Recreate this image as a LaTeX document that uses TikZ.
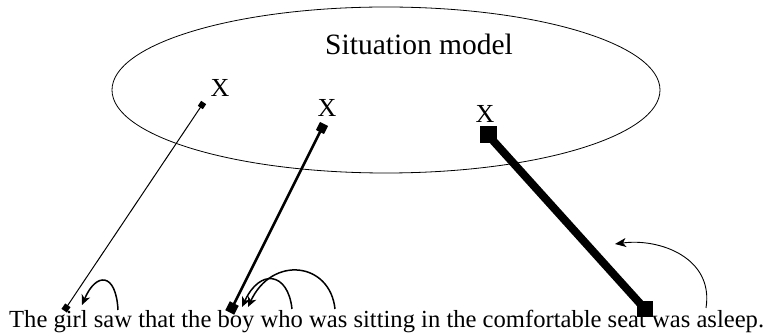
\documentclass[tikz,border=0pt]{standalone}
\usepackage{fontspec}
\setmainfont{Liberation Serif}
\usetikzlibrary{shapes.geometric,arrows.meta}
\begin{document}
\begin{tikzpicture}[x=1pt,y=-1pt,
  sqbox/.style={fill=black,inner sep=0pt,minimum size=#1,shape=rectangle},
  xmark/.style={inner sep=0pt,anchor=base,font=\fontsize{26}{30}\selectfont},
  curvearrow/.style={-{Stealth[length=10pt,width=9pt,inset=3pt]},line width=1.5pt},
  thinarrow/.style={-{Stealth[length=11pt,width=9pt,inset=3pt]},line width=0.9pt}]
\useasboundingbox (0,0) rectangle (774,336);
% situation model ellipse
\node[ellipse,draw,line width=0.8pt,minimum width=548pt,minimum height=166pt,inner sep=0pt] (sm) at (386,90) {};
\node[inner sep=0pt,anchor=base west,font=\fontsize{29.5}{34}\selectfont] (title) at (325,55) {Situation model};
% X marks
\node[xmark] (x1) at (220,97) {X};
\node[xmark] (x2) at (327,117) {X};
\node[xmark] (x3) at (485,123) {X};
% sentence
\node[inner sep=0pt,anchor=base west,font=\fontsize{24.6}{29}\selectfont] (sent) at (9,328) {The girl saw that the boy who was sitting in the comfortable seat was asleep.};
% reference lines with square ends
\node[sqbox=6pt,rotate=56] (a1) at (202,105) {};
\node[sqbox=6.5pt,rotate=56] (b1) at (66,308) {};
\draw[line width=1pt] (a1.center) -- (b1.center);
\node[sqbox=9pt,rotate=63] (a2) at (322,128) {};
\node[sqbox=10pt,rotate=63] (b2) at (232,308) {};
\draw[line width=2.5pt] (a2.center) -- (b2.center);
\node[sqbox=17pt] (a3) at (488,135) {};
\node[sqbox=16pt] (b3) at (645,309) {};
\draw[line width=8pt] (a3.center) -- (b3.center);
% curved arrows
\coordinate (sA) at (118,310); \coordinate (tA) at (82,305);
\draw[curvearrow] (sA) .. controls (116,272) and (96,272) .. (tA);
\coordinate (sB) at (292,309); \coordinate (tB) at (242,307);
\draw[curvearrow] (sB) .. controls (288,272) and (260,268) .. (tB);
\coordinate (sC) at (335,309); \coordinate (tC) at (248,307);
\draw[curvearrow] (sC) .. controls (330,262) and (272,255) .. (tC);
\coordinate (sD) at (706,308); \coordinate (tD) at (615,244);
\draw[thinarrow] (sD) .. controls (714,258) and (660,238) .. (tD);
\end{tikzpicture}
\end{document}
